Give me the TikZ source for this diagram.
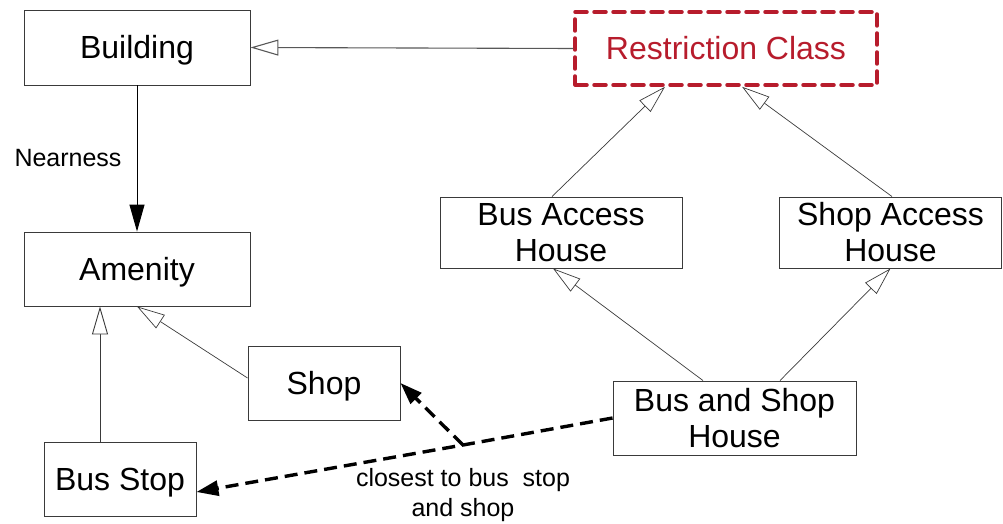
\documentclass[tikz,border=0pt]{standalone}
\usepackage{fontspec}
\setmainfont{Liberation Sans}
\usetikzlibrary{arrows.meta,calc}
\definecolor{restrred}{HTML}{B71C2C}
\definecolor{edgegray}{HTML}{3A3A3A}
\tikzset{
  classbox/.style={draw=edgegray, line width=0.9pt, fill=white, align=center,
    inner sep=0pt, font=\fontsize{32}{36}\selectfont},
  oneline/.style={text height=23pt, text depth=0pt},
  restrbox/.style={draw=restrred, line width=3.5pt, dash pattern=on 12pt off 7pt,
    line cap=round, text=restrred, inner sep=0pt, font=\fontsize{32}{36}\selectfont},
  generalize/.style={draw=edgegray, line width=0.7pt,
    -{Triangle[open, length=28pt, width=16pt, fill=white]}},
  assoc/.style={draw=black, line width=1pt, -{Triangle[length=27pt, width=15pt]}},
  depend/.style={draw=black, line width=3.4pt, dash pattern=on 13pt off 7pt,
    -{Triangle[length=22pt, width=15pt]}},
  lbl/.style={inner sep=0pt, align=center, font=\fontsize{25}{30}\selectfont}
}
\begin{document}
\begin{tikzpicture}[x=1pt, y=-1pt]
  \useasboundingbox (0,0) rectangle (1003,524);

  % classes
  \node[classbox, oneline, minimum width=226pt, minimum height=75pt] (building) at (137,47.5) {Building};
  \node[classbox, oneline, minimum width=226pt, minimum height=74pt] (amenity) at (137,269) {Amenity};
  \node[classbox, oneline, minimum width=152pt, minimum height=74pt] (shop) at (324,383) {Shop};
  \node[classbox, oneline, minimum width=152pt, minimum height=74pt] (busstop) at (120,479) {Bus Stop};
  \node[restrbox, oneline, minimum width=302pt, minimum height=73pt] (restr) at (726,48.5) {Restriction Class};
  \node[classbox, minimum width=242pt, minimum height=71pt] (busacc) at (561,232.5) {Bus Access\\House};
  \node[classbox, minimum width=222pt, minimum height=71pt] (shopacc) at (890.5,232.5) {Shop Access\\House};
  \node[classbox, minimum width=243pt, minimum height=74pt] (busshop) at (734.5,418) {Bus and Shop\\House};

  % generalisations
  \draw[generalize, line width=1.1pt, draw=edgegray!85] (restr.west) -- (building.east);
  \draw[generalize, line width=0.9pt] ([xshift=-20pt]busstop.north) -- ([xshift=-20pt]busstop.north |- amenity.south);
  \draw[generalize] ([yshift=5pt]shop.west) -- (amenity.south);
  \draw[generalize] ([xshift=-9pt]busacc.north) -- ([xshift=-61pt]restr.south);
  \draw[generalize] ([xshift=1.5pt]shopacc.north) -- ([xshift=16pt]restr.south);
  \draw[generalize] ([xshift=-31.5pt]busshop.north) -- ([xshift=-8pt]busacc.south);
  \draw[generalize] ([xshift=45.5pt]busshop.north) -- (shopacc.south);

  % association
  \draw[assoc] (building.south) -- (amenity.north);
  \node[lbl] (nearlbl) at (68,158) {Nearness};

  % dependency to the nearest amenities
  \coordinate (split) at (463,445);
  \draw[depend] (busshop.west) -- (split) -- ([yshift=-13pt]busstop.east);
  \draw[depend] (split) -- (shop.east);
  \node[lbl] (closelbl) at (463,495) {closest to bus\ \ stop\\and shop};
\end{tikzpicture}
\end{document}
